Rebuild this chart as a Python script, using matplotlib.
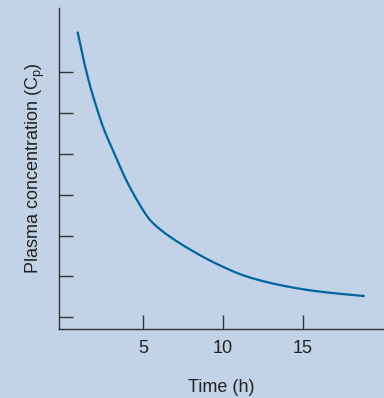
import matplotlib
matplotlib.use("Agg")
import matplotlib.pyplot as plt
import numpy as np

time_h = [0.91, 1.29, 1.71, 2.13, 2.54, 3.13, 3.79, 4.63, 5.46, 6.29, 7.13, 7.96,
          9.41, 11.5, 13.58, 15.66, 17.75, 18.89]
conc = [8.00, 7.31, 6.65, 6.11, 5.63, 5.09, 4.50, 3.875, 3.38, 3.09, 2.86, 2.66,
        2.35, 2.00, 1.79, 1.65, 1.56, 1.52]
x_ticks = [5, 10, 15]
x_tick_labels = ["5", "10", "15"]
y_ticks = [1, 2, 3, 4, 5, 6, 7]


def pchip(x, y, xs):
    x = np.asarray(x, float)
    y = np.asarray(y, float)
    h = np.diff(x)
    d = np.diff(y) / h
    m = np.zeros_like(y)
    for k in range(1, len(x) - 1):
        if d[k - 1] * d[k] > 0:
            w1 = 2 * h[k] + h[k - 1]
            w2 = h[k] + 2 * h[k - 1]
            m[k] = (w1 + w2) / (w1 / d[k - 1] + w2 / d[k])
    m[0] = d[0]
    m[-1] = d[-1]
    idx = np.clip(np.searchsorted(x, xs) - 1, 0, len(x) - 2)
    t = (xs - x[idx]) / h[idx]
    h00 = 2 * t**3 - 3 * t**2 + 1
    h10 = t**3 - 2 * t**2 + t
    h01 = -2 * t**3 + 3 * t**2
    h11 = t**3 - t**2
    return h00 * y[idx] + h10 * h[idx] * m[idx] + h01 * y[idx + 1] + h11 * h[idx] * m[idx + 1]


plt.rcParams['font.family'] = ['Liberation Sans', 'DejaVu Sans']
bg = "#c2d3e8"
fig = plt.figure(figsize=(3.84, 3.98), dpi=100, facecolor=bg)
ax = fig.add_axes([0.1536, 0.1734, 0.8464, 0.8066], facecolor=bg)

xs = np.linspace(time_h[0], time_h[-1], 500)
ax.plot(xs, pchip(time_h, conc, xs), color="#00659f", lw=1.6, solid_capstyle="butt")

ax.set_xlim(-0.25, 20.1)
ax.set_ylim(0.713, 8.58)
for s in ["top", "right"]:
    ax.spines[s].set_visible(False)
for s in ["left", "bottom"]:
    ax.spines[s].set_color("#333333")
    ax.spines[s].set_linewidth(1.0)

ax.set_xticks(x_ticks)
ax.set_xticklabels(x_tick_labels)
ax.set_yticks(y_ticks)
ax.set_yticklabels([])
ax.tick_params(axis="both", direction="in", length=10, width=1.0, color="#333333",
               labelsize=13, labelcolor="#222222")
ax.tick_params(axis="x", pad=8)

ax.set_xlabel("Time (h)", fontsize=13, color="#222222", labelpad=16)
ax.set_ylabel("Plasma concentration (C$_\\mathregular{p}$)", fontsize=13, color="#222222", labelpad=5)

fig.savefig("out.png", dpi=100, facecolor=bg)
